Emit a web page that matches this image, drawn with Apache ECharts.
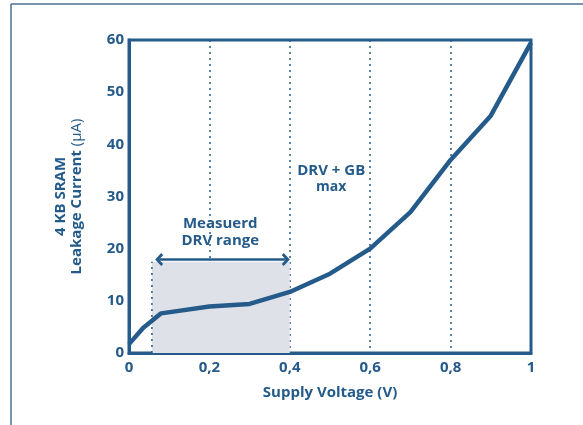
<!DOCTYPE html>
<html>
<head>
<meta charset="utf-8">
<script src="https://cdn.jsdelivr.net/npm/echarts@6/dist/echarts.min.js"></script>
<style>
html,body{margin:0;padding:0;background:#fff;}
#chart{width:583px;height:425px;}
</style>
</head>
<body>
<div id="chart"></div>
<script>
// 漏电流曲线数据
var voltage = [0, 0.035, 0.08, 0.2, 0.3, 0.4, 0.5, 0.6, 0.7, 0.8, 0.9, 1.0];
var leakage = [1.7, 4.8, 7.6, 8.9, 9.4, 11.7, 15.2, 20, 27, 37, 45.5, 59.5];

// 测量的 DRV 范围（阴影区）
var drvRangeX = [0.057, 0.4];
var drvRangeTop = 17.5;
var arrowX = [0.075, 0.39];
var arrowY = 17.9;

// 注释文字
var annText = ['{b|Measuerd}\n{b|DRV range}', '{b|DRV + GB}\n{s|max}'];
var annX = [0.227, 0.503];
var annY = [23.1, 33.4];

var blue = '#245b8a';
var font = '"Open Sans", Lato, sans-serif';

var myChart = echarts.init(document.getElementById('chart'));

var curve = [];
for (var i = 0; i < voltage.length; i++) curve.push([voltage[i], leakage[i]]);

var ann = [];
for (var j = 0; j < annText.length; j++) ann.push({value: [annX[j], annY[j]], txt: annText[j]});

var option = {
	backgroundColor: '#fff',
	animation: false,
	graphic: [
		{type: 'line', shape: {x1: 11, y1: 4, x2: 583, y2: 4}, style: {stroke: '#4a6f92', lineWidth: 1.5}},
		{type: 'line', shape: {x1: 11, y1: 4, x2: 11, y2: 425}, style: {stroke: '#4a6f92', lineWidth: 1.5}}
	],
	grid: {
		left: 129, right: 52, top: 40, bottom: 72,
		show: true, borderColor: blue, borderWidth: 3
	},
	xAxis: {
		type: 'value', min: 0, max: 1, interval: 0.2,
		name: 'Supply Voltage (V)', nameLocation: 'middle', nameGap: 32,
		nameTextStyle: {color: blue, fontFamily: font, fontWeight: 'bold', fontSize: 15},
		axisLine: {lineStyle: {color: blue, width: 3}},
		axisTick: {show: false},
		axisLabel: {
			color: blue, fontFamily: font, fontWeight: 'bold', fontSize: 15, margin: 7,
			formatter: function(v){ return String(v).replace('.', ','); }
		},
		splitLine: {show: true, lineStyle: {color: blue, width: 1.5, type: [2, 4]}}
	},
	yAxis: {
		type: 'value', min: 0, max: 60, interval: 10,
		name: '{r|4 KB SRAM}\n{r|Leakage Current }{n|(µA)}', nameLocation: 'middle', nameGap: 44,
		nameTextStyle: {
			color: blue, fontFamily: font, fontWeight: 'bold', fontSize: 15, lineHeight: 16,
			rich: {
				r: {color: blue, fontFamily: font, fontWeight: 'bold', fontSize: 15, lineHeight: 16},
				n: {color: blue, fontFamily: font, fontWeight: 'normal', fontSize: 15, lineHeight: 16}
			}
		},
		axisLine: {show: true, lineStyle: {color: blue, width: 3}},
		axisTick: {show: false},
		axisLabel: {color: blue, fontFamily: font, fontWeight: 'bold', fontSize: 15, margin: 5},
		splitLine: {show: false}
	},
	series: [
		{
			// 阴影区 + 虚线
			type: 'line',
			data: [[drvRangeX[0], 0], [drvRangeX[0], drvRangeTop]],
			symbol: 'none',
			lineStyle: {color: blue, width: 1.5, type: [2, 4]},
			z: 1,
			markArea: {
				silent: true,
				itemStyle: {color: '#dfe1e8'},
				data: [[{coord: [drvRangeX[0], 0]}, {coord: [drvRangeX[1], drvRangeTop]}]]
			}
		},
		{
			// 双向箭头
			type: 'line',
			data: [],
			markLine: {
				silent: true,
				symbol: ['path://M5,0 L10,5 L8.4,6.6 L5,3.2 L1.6,6.6 L0,5 Z', 'path://M5,0 L10,5 L8.4,6.6 L5,3.2 L1.6,6.6 L0,5 Z'],
				symbolSize: [13, 8],
				label: {show: false},
				lineStyle: {color: blue, width: 2.5, type: 'solid'},
				data: [[{coord: [arrowX[0], arrowY]}, {coord: [arrowX[1], arrowY]}]]
			}
		},
		{
			type: 'line',
			data: curve,
			symbol: 'none',
			lineStyle: {color: blue, width: 4.5},
			z: 5
		},
		{
			type: 'scatter',
			data: ann,
			symbolSize: 1,
			itemStyle: {color: 'rgba(0,0,0,0)', opacity: 1},
			label: {
				show: true, position: 'inside', opacity: 1,
				color: blue, textBorderWidth: 0,
				formatter: function(p){ return p.data.txt; },
				rich: {
					b: {color: blue, fontFamily: font, fontWeight: 'bold', fontSize: 15, lineHeight: 17},
					s: {color: blue, fontFamily: font, fontWeight: 'bold', fontSize: 14, lineHeight: 17}
				}
			},
			z: 6
		}
	]
};
myChart.setOption(option);
</script>
</body>
</html>
